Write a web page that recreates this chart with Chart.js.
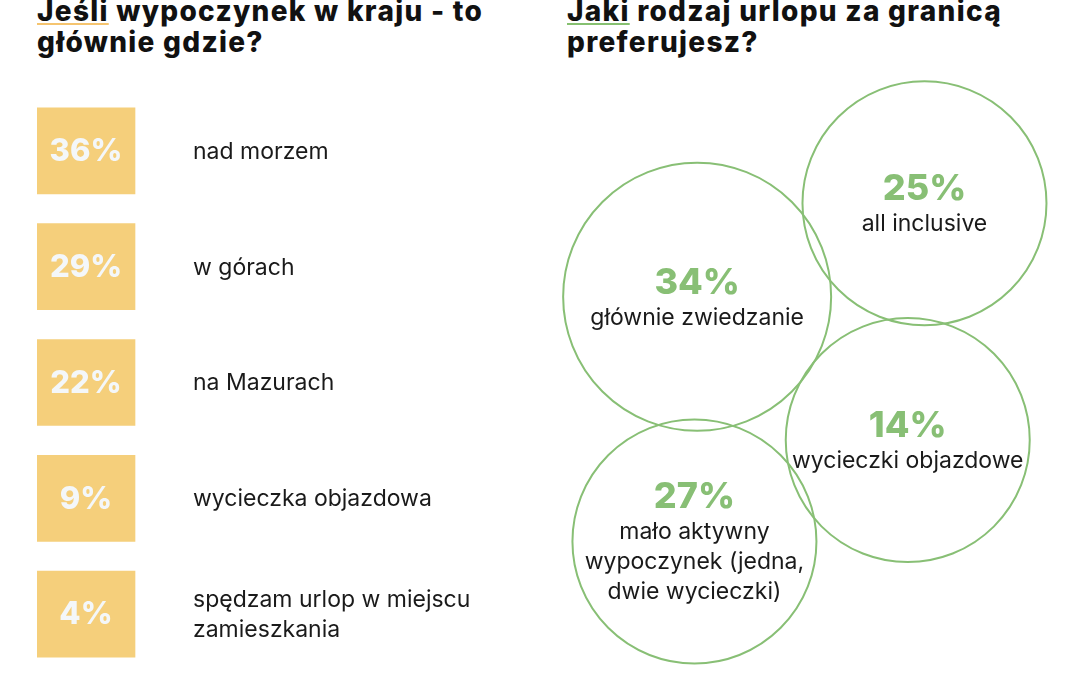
<!DOCTYPE html>
<html lang="pl">
<head>
<meta charset="utf-8">
<script src="https://cdn.jsdelivr.net/npm/chart.js@4.4.1/dist/chart.umd.min.js"></script>
<style>
    html, body { margin: 0; padding: 0; background: #ffffff; }
    body { width: 1080px; height: 675px; position: relative; overflow: hidden; font-family: Inter, sans-serif; }
    .title { position: absolute; top: -4px; margin: 0; font-size: 28px; font-weight: 800; line-height: 31px; color: #111111; letter-spacing: 1.3px; }
    .title span { text-decoration: underline; text-decoration-thickness: 2px; text-underline-offset: 2px; }
    #title-left { left: 37px; }
    #title-left span { text-decoration-color: #f5c46f; }
    #title-right { left: 567px; }
    #title-right span { text-decoration-color: #86c070; }
    #left-wrap { position: absolute; left: 37px; top: 93px; width: 500px; height: 579px; }
    #right-wrap { position: absolute; left: 540px; top: 60px; width: 540px; height: 615px; }
</style>
</head>
<body>
<h1 class="title" id="title-left"><span>Jeśli</span> wypoczynek w kraju - to<br>głównie gdzie?</h1>
<h1 class="title" id="title-right"><span>Jaki</span> rodzaj urlopu za granicą<br>preferujesz?</h1>
<div id="left-wrap"><canvas id="homeChart"></canvas></div>
<div id="right-wrap"><canvas id="abroadChart"></canvas></div>
<script>
// --- DATA ---
const homeLabels = [['nad morzem'], ['w górach'], ['na Mazurach'], ['wycieczka objazdowa'], ['spędzam urlop w miejscu', 'zamieszkania']];
const homeValues = [36, 29, 22, 9, 4];

const abroadLabels = [['all inclusive'], ['głównie zwiedzanie'], ['wycieczki objazdowe'], ['mało aktywny', 'wypoczynek (jedna,', 'dwie wycieczki)']];
const abroadValues = [25, 34, 14, 27];

// bubble layout (grid units 0-10, not data)
const bubbleX = [7.12, 2.91, 6.81, 2.86];
const bubbleY = [2.33, 3.85, 6.18, 7.83];
const bubbleR = [122, 134, 122, 122];

const YELLOW = '#f5cf7b';
const GREEN = '#88bf75';
const TEXT = '#1a1a1a';
const FONT = 'Inter, sans-serif';

// --- LEFT: yellow boxes ---
const boxLabelsPlugin = {
    id: 'boxLabels',
    afterDatasetsDraw(chart) {
        const ctx = chart.ctx;
        const meta = chart.getDatasetMeta(0);
        meta.data.forEach((bar, i) => {
            const cx = (bar.x + bar.base) / 2;
            ctx.save();
            ctx.fillStyle = '#f4f7f9';
            ctx.font = `800 31px ${FONT}`;
            ctx.textAlign = 'center';
            ctx.textBaseline = 'middle';
            ctx.fillText(homeValues[i] + '%', cx, bar.y + 1);
            ctx.fillStyle = TEXT;
            ctx.font = `400 23px ${FONT}`;
            ctx.textAlign = 'left';
            const lines = homeLabels[i];
            const start = bar.y - (lines.length - 1) * 15;
            lines.forEach((ln, j) => ctx.fillText(ln, 156, start + j * 30 + 1));
            ctx.restore();
        });
    }
};

new Chart(document.getElementById('homeChart'), {
    type: 'bar',
    data: {
        labels: homeLabels.map(l => l.join(' ')),
        datasets: [{
            data: homeValues.map(() => [0, 1]),
            backgroundColor: YELLOW,
            barThickness: 86,
            borderWidth: 0
        }]
    },
    options: {
        indexAxis: 'y',
        responsive: true, maintainAspectRatio: false,
        animation: false,
        events: [],
        layout: { padding: 0, autoPadding: false },
        plugins: { legend: { display: false }, tooltip: { enabled: false } },
        scales: {
            x: { display: false, min: 0, max: 500 / 98 },
            y: { display: false }
        }
    },
    plugins: [boxLabelsPlugin]
});

// --- RIGHT: bubbles ---
const bubbleLabelsPlugin = {
    id: 'bubbleLabels',
    afterDatasetsDraw(chart) {
        const ctx = chart.ctx;
        const meta = chart.getDatasetMeta(0);
        meta.data.forEach((pt, i) => {
            const lines = abroadLabels[i];
            const shift = (lines.length - 1) * 15;
            ctx.save();
            ctx.textAlign = 'center';
            ctx.textBaseline = 'middle';
            ctx.fillStyle = GREEN;
            ctx.font = `800 36px ${FONT}`;
            ctx.fillText(abroadValues[i] + '%', pt.x, pt.y - 14 - shift);
            ctx.fillStyle = TEXT;
            ctx.font = `400 23px ${FONT}`;
            lines.forEach((ln, j) => ctx.fillText(ln, pt.x, pt.y + 21 - shift + j * 30));
            ctx.restore();
        });
    }
};

new Chart(document.getElementById('abroadChart'), {
    type: 'bubble',
    data: {
        datasets: [{
            data: abroadValues.map((v, i) => ({ x: bubbleX[i], y: bubbleY[i], r: bubbleR[i], v: v })),
            backgroundColor: 'rgba(0,0,0,0)',
            borderColor: GREEN,
            borderWidth: 2,
            clip: false
        }]
    },
    options: {
        responsive: true, maintainAspectRatio: false,
        animation: false,
        events: [],
        layout: { padding: 0, autoPadding: false },
        plugins: { legend: { display: false }, tooltip: { enabled: false } },
        scales: {
            x: { display: false, min: 0, max: 10 },
            y: { display: false, min: 0, max: 10, reverse: true }
        }
    },
    plugins: [bubbleLabelsPlugin]
});
</script>
</body>
</html>
